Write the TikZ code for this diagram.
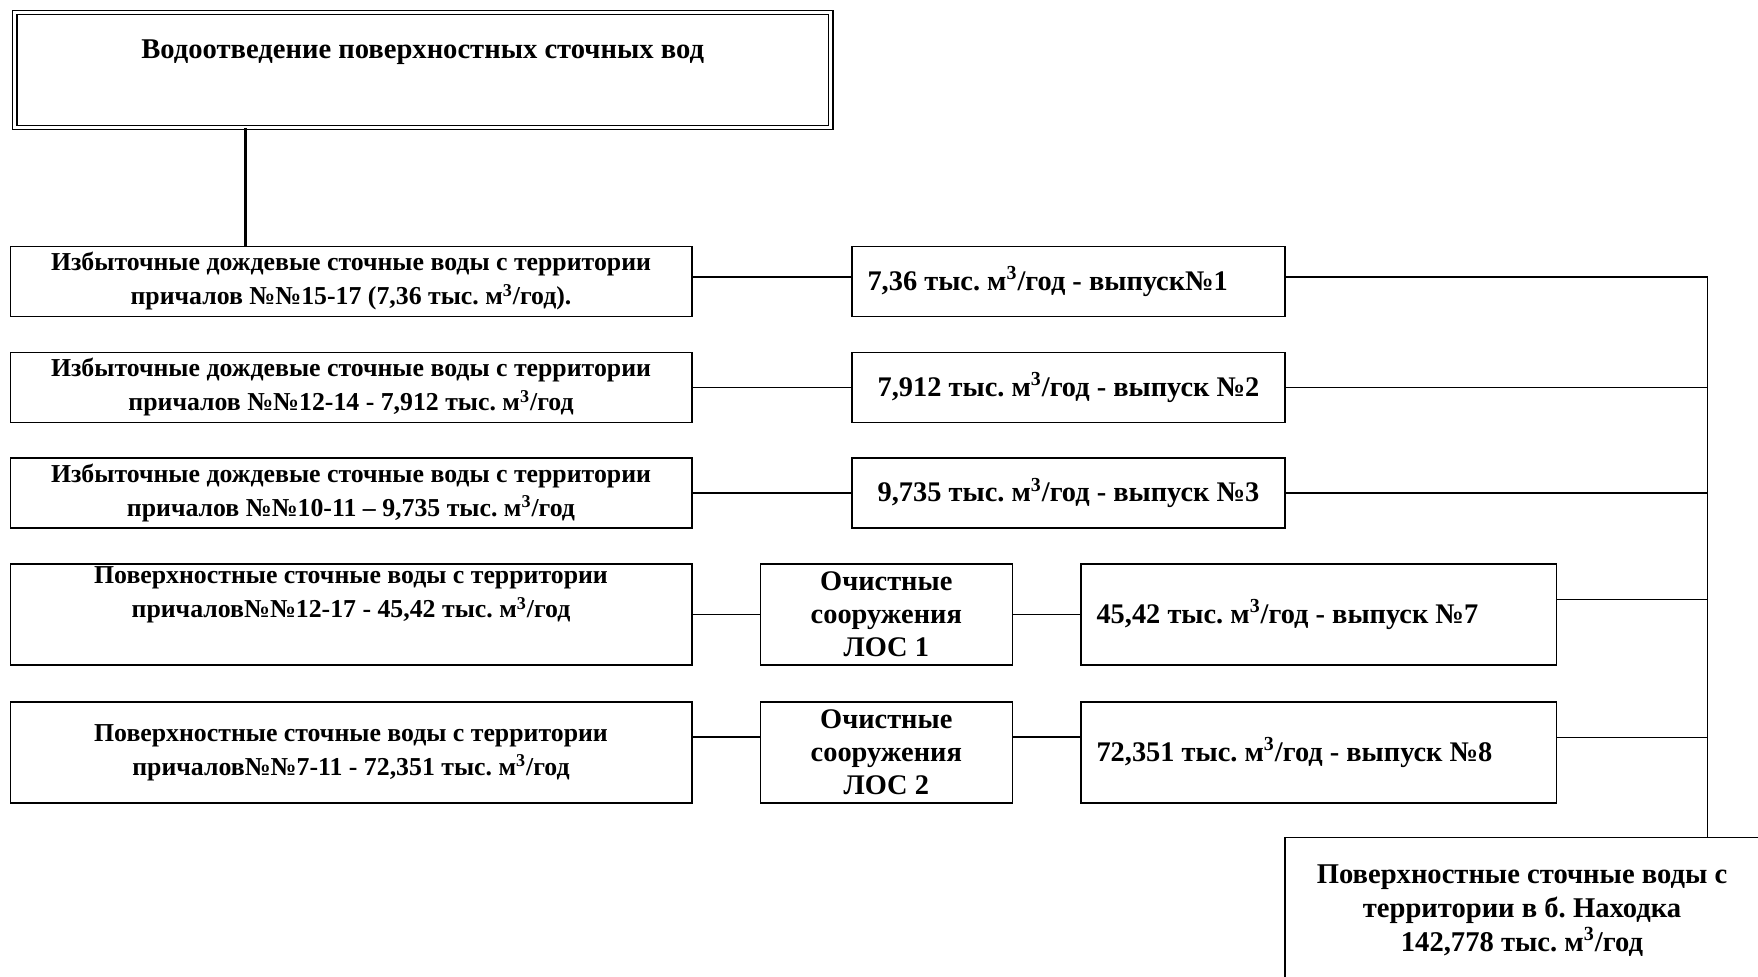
\documentclass[tikz,border=0pt]{standalone}
\usepackage{fontspec}
\setmainfont{Liberation Serif}
\usetikzlibrary{calc}

\newcommand{\mcub}{м\textsuperscript{3}/год}
\frenchspacing

\begin{document}
\begin{tikzpicture}[x=0.5pt, y=-0.5pt, line width=0.7pt,
  box/.style={draw, rectangle, inner sep=0pt, align=center,
    font=\bfseries\fontsize{12.9}{17}\selectfont},
  srcbox/.style={box, minimum width=340.8pt, minimum height=35pt},
  bigsrc/.style={box, minimum width=340.8pt, minimum height=50.5pt},
  outbox/.style={box, minimum width=216.4pt, minimum height=35pt,
    font=\bfseries\fontsize{14.2}{16}\selectfont},
  outleft/.style={outbox, text width=201pt, align=flush left, inner xsep=7.7pt},
  wideout/.style={box, minimum width=237.7pt, minimum height=50.5pt,
    text width=222pt, align=flush left, inner xsep=7.7pt,
    font=\bfseries\fontsize{14.2}{16}\selectfont},
  losbox/.style={box, minimum width=126pt, minimum height=50.5pt,
    font=\bfseries\fontsize{14.2}{16.6}\selectfont}]

  \useasboundingbox (0,0) rectangle (1758,976);

  % head of the scheme
  \node [box, double, double distance=1.4pt, minimum width=408pt, minimum height=57.5pt,
    font=\bfseries\fontsize{14.3}{16}\selectfont] (head) at (422.7, 70)
    {Водоотведение поверхностных сточных вод\\ \strut};

  % sources
  \node [srcbox] (src1) at (351, 281.5) {Избыточные дождевые сточные воды с территории\\ причалов №№15-17 (7,36 тыс. \mcub).};
  \node [srcbox] (src2) at (351, 387.4) {Избыточные дождевые сточные воды с территории\\ причалов №№12-14 - 7,912 тыс. \mcub};
  \node [srcbox] (src3) at (351, 492.8) {Избыточные дождевые сточные воды с территории\\ причалов №№10-11 – 9,735 тыс. \mcub};
  \node [bigsrc] (src7) at (351, 614.5) {Поверхностные сточные воды с территории\\ причалов№№12-17 - 45,42 тыс. \mcub\\ \strut};
  \node [bigsrc] (src8) at (351, 752.4) {Поверхностные сточные воды с территории\\ причалов№№7-11 - 72,351 тыс. \mcub};

  % treatment plants
  \node [losbox] (los1) at (886.3, 614.5) {Очистные\\ сооружения\\ ЛОС 1};
  \node [losbox] (los2) at (886.3, 752.4) {Очистные\\ сооружения\\ ЛОС 2};

  % outlets
  \node [outleft] (out1) at (1068.5, 281.5) {7,36 тыс. \mcub{} - выпуск№1};
  \node [outbox] (out2) at (1068.5, 387.4) {7,912 тыс. \mcub{} - выпуск №2};
  \node [outbox] (out3) at (1068.5, 492.8) {9,735 тыс. \mcub{} - выпуск №3};
  \node [wideout] (out7) at (1318.5, 614.5) {45,42 тыс. \mcub{} - выпуск №7};
  \node [wideout] (out8) at (1318.5, 752.4) {72,351 тыс. \mcub{} - выпуск №8};

  % receiving water
  \node [box, minimum width=237pt, minimum height=73pt,
    font=\bfseries\fontsize{14.3}{16.8}\selectfont] (sink) at (1522, 910.6)
    {Поверхностные сточные воды с\\ территории в б. Находка\\ 142,778 тыс. \mcub};

  \coordinate (drop) at (245.5, 0);
  \coordinate (bus) at (1707.6, 0);

  \draw [line width=1.4pt] (head.south -| drop) -- (src1.north -| drop);

  \draw ([yshift=2.2pt]src1.east) -- ([yshift=2.2pt]out1.west);
  \draw (src2) -- (out2);
  \draw (src3) -- (out3);
  \draw (src7) -- (los1);
  \draw (los1) -- (out7);
  \draw ([yshift=7.8pt]src8.east) -- ([yshift=7.8pt]los2.west);
  \draw ([yshift=7.8pt]los2.east) -- ([yshift=7.8pt]out8.west);

  \draw ([yshift=2.2pt]out1.east) -| (bus |- sink.north);
  \draw (out2.east) -- (out2.east -| bus);
  \draw (out3.east) -- (out3.east -| bus);
  \draw ([yshift=7.6pt]out7.east) -- ([yshift=7.6pt]out7.east -| bus);
  \draw ([yshift=7.6pt]out8.east) -- ([yshift=7.6pt]out8.east -| bus);
\end{tikzpicture}
\end{document}
